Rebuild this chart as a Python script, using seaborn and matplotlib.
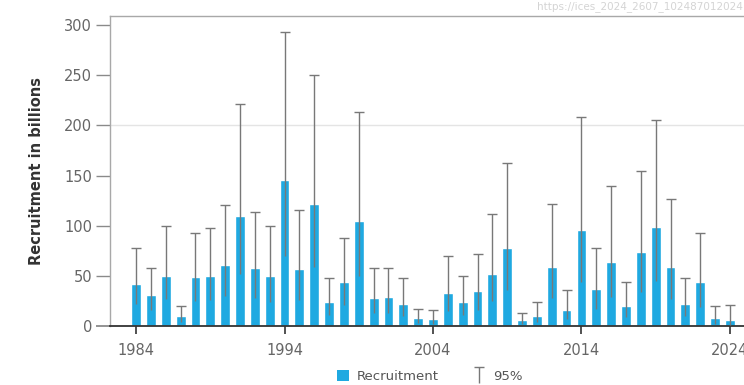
import matplotlib
matplotlib.use("Agg")
import matplotlib.pyplot as plt
from matplotlib.patches import Patch
from matplotlib.lines import Line2D
from matplotlib.path import Path
import seaborn as sns
import pandas as pd

# Recruitment estimates (billions) with 95% confidence bounds
years = list(range(1984, 2025))
recruitment = [42, 31, 50, 10, 49, 50, 61, 110, 58, 50,
               146, 57, 122, 24, 44, 105, 28, 29, 22, 8,
               7, 33, 24, 35, 52, 78, 6, 10, 59, 16,
               96, 37, 64, 20, 74, 99, 59, 22, 44, 8, 6]
ci_low = [22, 16, 27, 4, 25, 26, 30, 52, 28, 24,
          70, 26, 59, 11, 21, 50, 13, 13, 10, 3,
          2, 15, 11, 16, 25, 36, 2, 4, 28, 7,
          44, 17, 29, 9, 34, 45, 27, 10, 19, 2, 1]
ci_high = [78, 58, 100, 20, 93, 98, 121, 221, 114, 100,
           293, 116, 250, 48, 88, 213, 58, 58, 48, 17,
           16, 70, 50, 72, 112, 163, 13, 24, 122, 36,
           208, 78, 140, 44, 155, 205, 127, 48, 93, 20, 21]
tick_years = [1984, 1994, 2004, 2014, 2024]
y_ticks = [0, 50, 100, 150, 200, 250, 300]

df = pd.DataFrame({"year": years, "recruitment": recruitment,
                   "low": ci_low, "high": ci_high})

bar_color = "#1fa9e1"
err_color = "#787878"
sns.set_style("white")
plt.rcParams["font.family"] = ["DejaVu Sans"]

fig = plt.figure(figsize=(7.44, 3.85), dpi=100)
ax = fig.add_axes([0.148, 0.153, 0.852, 0.805])

ax.axhline(200, color="#e4e4e4", lw=1.0, zorder=0)

sns.barplot(data=df, x="year", y="recruitment", native_scale=True,
            color=bar_color, saturation=1, width=0.66, ax=ax,
            errorbar=None, zorder=2, legend=False)

# confidence interval: whisker from lower to upper bound, cap on top only
ax.vlines(df["year"], df["low"], df["high"], color=err_color, lw=1.0, zorder=3)
ax.plot(df["year"], df["high"], ls="none", marker="_", markersize=7,
        markeredgewidth=1.0, color=err_color, zorder=3)

ax.set_xlim(1982.25, 2024.95)
ax.set_ylim(0, 309)
ax.set_xticks(tick_years)
ax.set_xticklabels([str(t) for t in tick_years])
ax.set_yticks(y_ticks)

for side in ["top", "left"]:
    ax.spines[side].set_color("#a8a8a8")
    ax.spines[side].set_linewidth(1.0)
ax.spines["right"].set_visible(False)
ax.spines["bottom"].set_color("#333333")
ax.spines["bottom"].set_linewidth(1.3)

ax.tick_params(axis="y", length=10, width=1.0, color="#8a8a8a",
               labelcolor="#666666", labelsize=10.5, pad=3, left=True)
ax.tick_params(axis="x", length=6, width=1.2, color="#333333",
               labelcolor="#666666", labelsize=10.5, pad=6, bottom=True)
# the zero tick continues the baseline
zero_tick = ax.yaxis.get_major_ticks()[0]
zero_tick.tick1line.set_color("#333333")
zero_tick.tick1line.set_markeredgewidth(1.3)

ax.set_xlabel("")
ax.set_ylabel("Recruitment in billions", fontsize=10.5, fontweight="bold",
              color="#333333", labelpad=14)

# legend handles: blue square and a capped whisker
whisker = Path([(0, -1), (0, 1), (-0.6, 1), (0.6, 1)],
               [Path.MOVETO, Path.LINETO, Path.MOVETO, Path.LINETO])
handles = [Patch(facecolor=bar_color, edgecolor="none"),
           Line2D([], [], ls="none", marker=whisker, markersize=11,
                  markeredgewidth=1.0, markeredgecolor=err_color,
                  markerfacecolor="none")]
leg = fig.legend(handles, ["Recruitment", "95%"], loc="center",
                 bbox_to_anchor=(0.578, 0.021), ncol=2, frameon=False,
                 fontsize=9.5, handlelength=0.9, handleheight=0.9,
                 handletextpad=0.6, columnspacing=2.6)
for t in leg.get_texts():
    t.set_color("#555555")

fig.text(0.998, 0.997, "https://ices_2024_2607_102487012024",
         ha="right", va="top", fontsize=7.5, color="#d4d4d4")

fig.savefig("out.png", dpi=100)
